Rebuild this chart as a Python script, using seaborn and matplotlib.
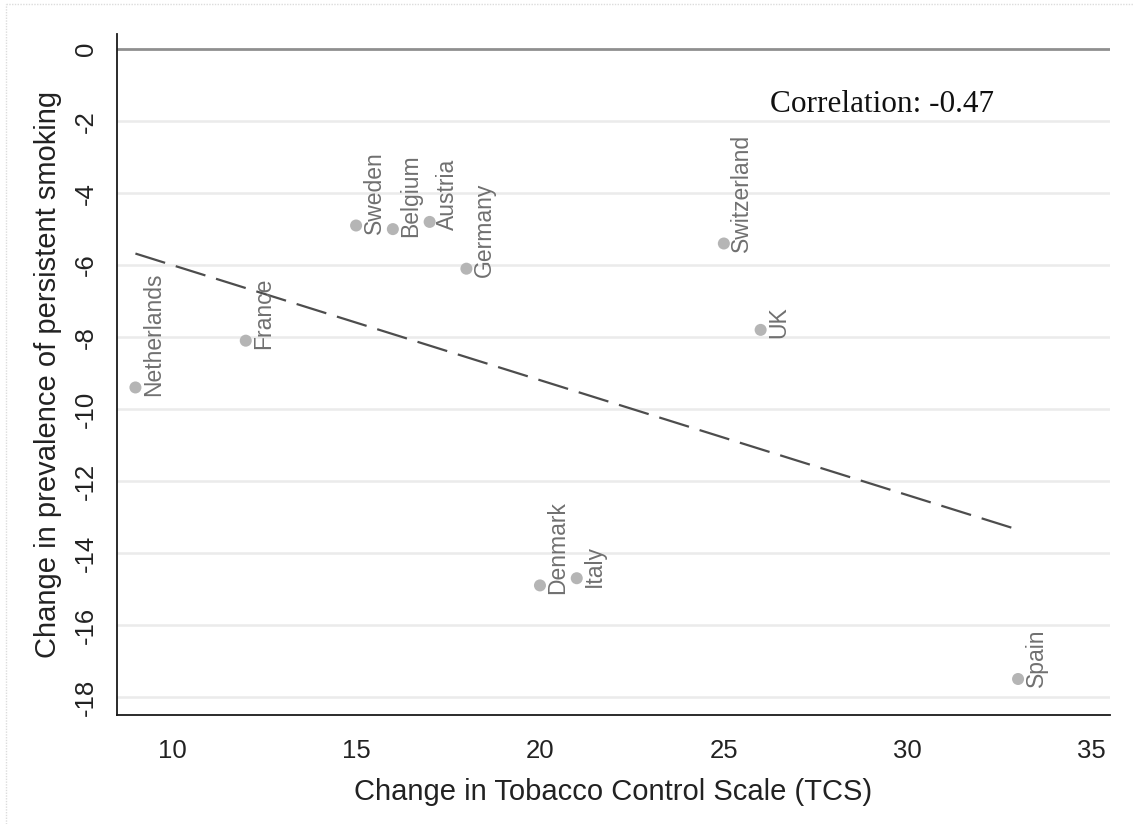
import numpy as np
import pandas as pd
import matplotlib
matplotlib.use("Agg")
import matplotlib.pyplot as plt
from matplotlib.lines import Line2D
import seaborn as sns

# Country-level changes: tobacco control score vs. persistent smoking prevalence
countries = ["Netherlands", "France", "Sweden", "Belgium", "Austria", "Germany",
             "Switzerland", "UK", "Denmark", "Italy", "Spain"]
tcs_change = [9, 12, 15, 16, 17, 18, 25, 26, 20, 21, 33]
smoking_change = [-9.4, -8.1, -4.9, -5.0, -4.8, -6.1, -5.4, -7.8, -14.9, -14.7, -17.5]

x_ticks = [10, 15, 20, 25, 30, 35]
y_ticks = [0, -2, -4, -6, -8, -10, -12, -14, -16, -18]

df = pd.DataFrame({"country": countries, "tcs": tcs_change, "smk": smoking_change})

sns.set_style("white")
plt.rcParams["font.family"] = ["Liberation Sans", "DejaVu Sans"]

fig = plt.figure(figsize=(11.33, 8.24), dpi=100)
ax = fig.add_axes([0.1033, 0.1323, 0.8764, 0.8264])

# horizontal grid and zero reference line
for yv in y_ticks[1:]:
    ax.axhline(yv, color="#ebebeb", lw=1.8, zorder=0)
ax.axhline(0, color="#8f8f8f", lw=2.0, zorder=1)

sns.scatterplot(data=df, x="tcs", y="smk", ax=ax, color="#b5b5b5", s=75,
                edgecolor="none", linewidth=0, zorder=3, legend=False)
sns.regplot(data=df, x="tcs", y="smk", ax=ax, scatter=False, ci=None,
            line_kws=dict(color="#4d4d4d", lw=1.6, dashes=(14, 5)))

for name, xv, yv in zip(countries, tcs_change, smoking_change):
    ax.annotate(name, (xv, yv), xytext=(13, -6), textcoords="offset points",
                rotation=90, rotation_mode="anchor", ha="left", va="center",
                fontsize=16.5, color="#707070", zorder=4)

r = np.corrcoef(tcs_change, smoking_change)[0, 1]
ax.text(26.25, -1.55, f"Correlation: {r:.2f}", ha="left", va="center",
        fontsize=22.5, color="#111111",
        family=["Liberation Serif", "DejaVu Serif"])

ax.set_xlim(8.5, 35.5)
ax.set_ylim(-18.5, 0.42)
ax.set_xticks(x_ticks)
ax.set_yticks(y_ticks)
ax.set_xticklabels([str(v) for v in x_ticks])
ax.set_yticklabels([str(v) for v in y_ticks], rotation=90, va="center")

ax.tick_params(axis="both", which="major", length=8, width=1.2, color="#222222",
               labelsize=18.5, labelcolor="#222222", direction="out")
ax.tick_params(axis="x", pad=9)
ax.tick_params(axis="y", pad=6)

ax.set_xlabel("Change in Tobacco Control Scale (TCS)", fontsize=21,
              color="#222222", labelpad=11)
ax.set_ylabel("Change in prevalence of persistent smoking", fontsize=21,
              color="#222222", labelpad=8)

for side in ("top", "right"):
    ax.spines[side].set_visible(False)
for side in ("left", "bottom"):
    ax.spines[side].set_color("#1a1a1a")
    ax.spines[side].set_linewidth(1.3)

# faint dotted frame of the graph region
fig.add_artist(Line2D([6 / 1133, 6 / 1133], [0, 1 - 4 / 824], transform=fig.transFigure,
                      color="#dcdcdc", lw=1.0, ls=(0, (1, 1))))
fig.add_artist(Line2D([6 / 1133, 1], [1 - 4 / 824, 1 - 4 / 824], transform=fig.transFigure,
                      color="#dcdcdc", lw=1.0, ls=(0, (1, 1))))

fig.savefig("out.png", dpi=100, facecolor="white")
